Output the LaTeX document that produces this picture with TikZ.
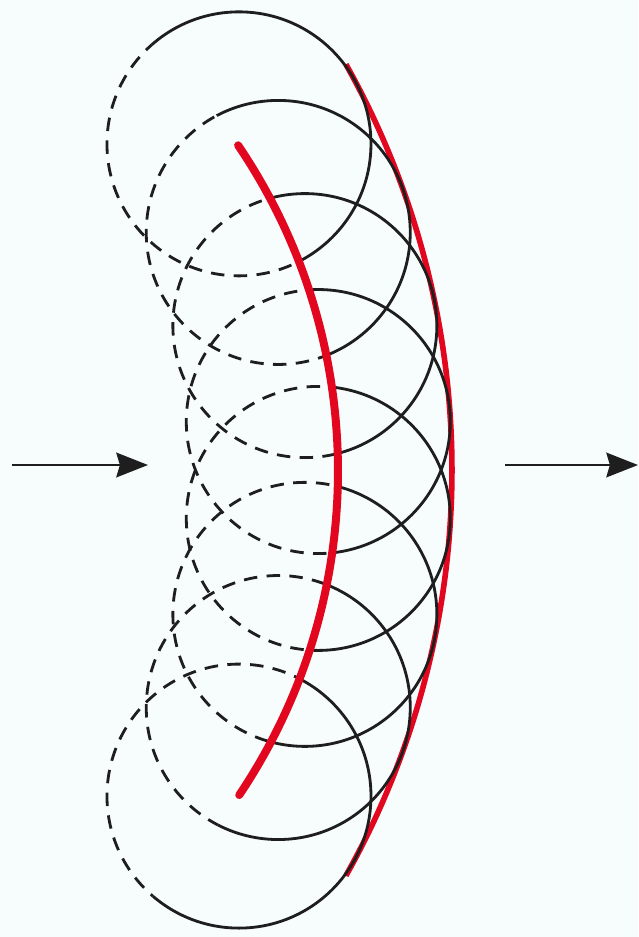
\documentclass[tikz,border=0pt]{standalone}
\usepackage{tikz}
\usetikzlibrary{arrows.meta}
\definecolor{paper}{HTML}{F7FCFD}
\definecolor{wavered}{HTML}{E2061E}
\definecolor{inkline}{HTML}{1E1E1E}
\tikzset{
  wavelet/.style={draw=inkline, line width=2.4pt},
  wavelet back/.style={wavelet, dash pattern=on 11.5pt off 8pt},
  front/.style={draw=wavered, line width=6.8pt, line cap=round},
  envelope/.style={draw=wavered, line width=4.8pt},
  flow/.style={-{Stealth[length=27pt, width=21pt, inset=3pt]}, line width=2.4pt, draw=inkline}
}

\begin{document}
\begin{tikzpicture}[x=0.03cm, y=0.03cm]
  \fill[paper] (0,0) rectangle (638,-937);
  \useasboundingbox (0,0) rectangle (638,-937);
  % centres of the wavelets and of the primary front
  \coordinate (O) at (-377,-470);
  \coordinate (F) at (-243,-471);

  % new front, tangent to all wavelets
  \draw[envelope] (O) ++(29.3:829) arc[start angle=29.3, end angle=-29.3, radius=829];

  % forward halves of the wavelets
  \begin{scope}[even odd rule]
    \clip (-50,50) rectangle (700,-1000) (F) circle[radius=581];
    \foreach \a in {0,...,7}
      \draw[wavelet] (O) ++({27.9-\a*7.971}:697) circle[radius=132];
  \end{scope}
  % backward halves
  \begin{scope}
    \clip (F) circle[radius=581];
    \foreach \a in {0,...,7}
      \draw[wavelet back] (O) ++({27.9-\a*7.971}:697) circle[radius=132];
  \end{scope}

  % primary front
  \draw[front] (F) ++(34.1:581) arc[start angle=34.1, end angle=-33.9, radius=581];

  \coordinate (in0) at (12,-465);
  \coordinate (in1) at (148,-465);
  \coordinate (out0) at (505,-465);
  \coordinate (out1) at (638,-465);
  \draw[flow] (in0) -- (in1);
  \draw[flow] (out0) -- (out1);
\end{tikzpicture}
\end{document}
